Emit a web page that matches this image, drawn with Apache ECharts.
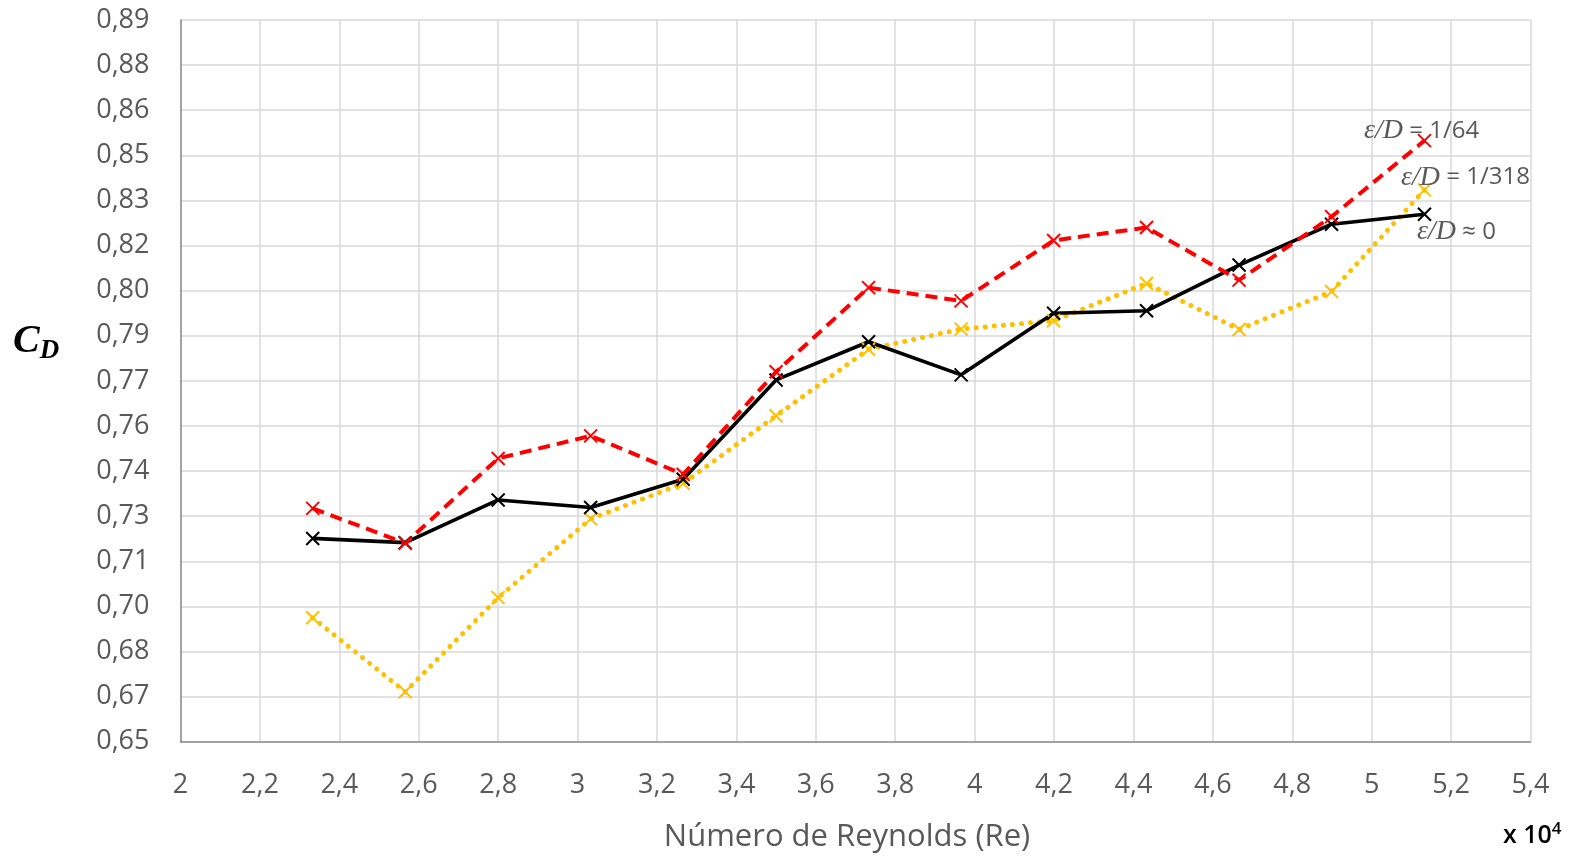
<!DOCTYPE html>
<html>
<head>
<meta charset="utf-8">
<script src="https://cdn.jsdelivr.net/npm/echarts@6/dist/echarts.min.js"></script>
<style>
  html, body { margin: 0; padding: 0; background: #ffffff; }
  #chart { width: 1578px; height: 861px; }
</style>
</head>
<body>
<div id="chart"></div>
<script>
// Reynolds number (x 10^4) for each test run
const reynolds = [2.333, 2.566, 2.800, 3.033, 3.266, 3.500, 3.733, 3.966, 4.199, 4.433, 4.666, 4.899, 5.133];

// Drag coefficient C_D per relative roughness
const cdSmooth = [0.7176, 0.7162, 0.7304, 0.7279, 0.7373, 0.7703, 0.7830, 0.7720, 0.7925, 0.7933, 0.8085, 0.8221, 0.8254];
const cdRough318 = [0.6912, 0.6666, 0.6979, 0.7241, 0.7359, 0.7584, 0.7805, 0.7872, 0.7900, 0.8024, 0.7871, 0.7997, 0.8335];
const cdRough64 = [0.7276, 0.7160, 0.7442, 0.7517, 0.7389, 0.7730, 0.8010, 0.7966, 0.8167, 0.8210, 0.8035, 0.8246, 0.8499];

// Curve labels
const labelSmooth = ' ≈ 0';
const labelRough318 = ' = 1/318';
const labelRough64 = ' = 1/64';

const xAxisTitle = 'Número de Reynolds (Re)';

const CROSS = 'path://M0,0L10,10M10,0L0,10';
const LABEL_GRAY = '#595959';

function buildData(values, labelText, labelPos) {
  return values.map(function (v, i) {
    const item = { value: [reynolds[i], v] };
    if (i === values.length - 1) {
      item.label = {
        show: true,
        position: labelPos,
        align: 'left',
        verticalAlign: 'middle',
        formatter: '{e|ε/D}{t|' + labelText + '}',
        rich: {
          e: { fontFamily: 'Liberation Serif', fontStyle: 'italic', fontSize: 28, color: LABEL_GRAY },
          t: { fontFamily: 'Open Sans', fontSize: 24, color: LABEL_GRAY }
        }
      };
    }
    return item;
  });
}

function lineSeries(name, values, color, lineType, width, cap, labelText, labelPos) {
  return {
    name: name,
    type: 'line',
    data: buildData(values, labelText, labelPos),
    symbol: CROSS,
    symbolSize: 13,
    showSymbol: true,
    lineStyle: { color: color, width: width, type: lineType, cap: cap },
    itemStyle: { color: 'transparent', borderColor: color, borderWidth: 2 },
    emphasis: { disabled: true },
    animation: false
  };
}

const chart = echarts.init(document.getElementById('chart'), null, { renderer: 'canvas' });

chart.setOption({
  backgroundColor: '#ffffff',
  animation: false,
  grid: { left: 180.5, right: 47.5, top: 20, bottom: 119.3, containLabel: false },
  xAxis: {
    type: 'value',
    min: 2,
    max: 5.4,
    interval: 0.2,
    axisLine: { show: true, lineStyle: { color: '#8c8c8c', width: 1.5 } },
    axisTick: { show: false },
    splitLine: { show: true, lineStyle: { color: '#d9d9d9', width: 1.5 } },
    axisLabel: {
      margin: 30,
      color: LABEL_GRAY,
      fontFamily: 'Open Sans',
      fontSize: 27,
      showMinLabel: true,
      showMaxLabel: true,
      formatter: function (v) { return String(Math.round(v * 10) / 10).replace('.', ','); }
    }
  },
  yAxis: {
    type: 'value',
    min: 0.65,
    max: 0.89,
    interval: 0.015,
    axisLine: { show: true, lineStyle: { color: '#8c8c8c', width: 1.5 } },
    axisTick: { show: false },
    splitLine: { show: true, lineStyle: { color: '#d9d9d9', width: 1.5 } },
    axisLabel: {
      margin: 31,
      color: LABEL_GRAY,
      fontFamily: 'Open Sans',
      fontSize: 27,
      showMinLabel: true,
      showMaxLabel: true,
      formatter: function (v) { return (Math.round(v * 100 + 1e-6) / 100).toFixed(2).replace('.', ','); }
    }
  },
  series: [
    lineSeries('ε/D = 1/318', cdRough318, '#FFC000', [0.1, 9], 5, 'round', labelRough318, [-16, -5]),
    lineSeries('ε/D ≈ 0', cdSmooth, '#000000', 'solid', 3.6, 'butt', labelSmooth, [0, 25]),
    lineSeries('ε/D = 1/64', cdRough64, '#FF0000', [12, 7], 4, 'butt', labelRough64, [-53, -2])
  ],
  graphic: [
    {
      type: 'text',
      left: 13,
      top: 322,
      style: {
        text: '{c|C}{d|D}',
        rich: {
          c: { fontFamily: 'Liberation Serif', fontStyle: 'italic', fontWeight: 'bold', fontSize: 40, color: '#262626' },
          d: { fontFamily: 'Liberation Serif', fontStyle: 'italic', fontWeight: 'bold', fontSize: 27, color: '#262626', padding: [18, 0, 0, 0] }
        }
      }
    },
    {
      type: 'text',
      x: 847,
      y: 837,
      style: {
        text: xAxisTitle,
        fontFamily: 'Open Sans',
        fontSize: 31,
        fill: LABEL_GRAY,
        align: 'center',
        verticalAlign: 'middle'
      }
    },
    {
      type: 'text',
      x: 1503,
      y: 836,
      style: {
        text: '{a|x 10}{s|4}',
        align: 'left',
        verticalAlign: 'middle',
        rich: {
          a: { fontFamily: 'Open Sans', fontWeight: 600, fontSize: 25, color: '#404040' },
          s: { fontFamily: 'Open Sans', fontWeight: 600, fontSize: 17, color: '#404040', padding: [0, 0, 14, 0] }
        }
      }
    }
  ]
});
</script>
</body>
</html>
